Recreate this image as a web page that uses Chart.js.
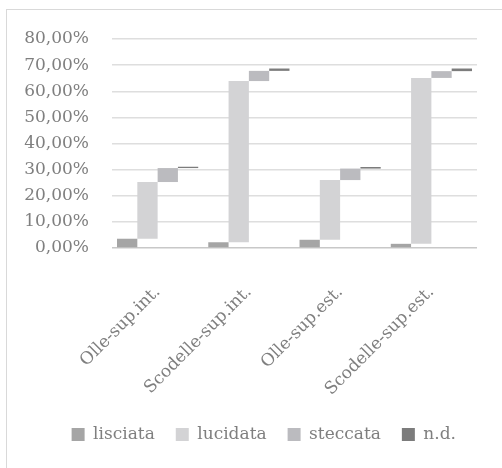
<!DOCTYPE html>
<html>
<head>
<meta charset="utf-8">
<script src="https://cdn.jsdelivr.net/npm/chart.js@4"></script>
<style>
  html, body { margin: 0; padding: 0; background: #ffffff; }
  #wrap { position: relative; width: 502px; height: 468px; overflow: hidden; }
  #frame { position: absolute; left: 6px; top: 9px; width: 700px; height: 700px; border: 1px solid #d9d9d9; box-sizing: border-box; }
  canvas { position: absolute; left: 0; top: 0; }
</style>
</head>
<body>
<div id="wrap">
  <div id="frame"></div>
  <canvas id="c" width="502" height="468"></canvas>
</div>
<script>
// Data (percent units): each series is the increment of a waterfall per category
const categories = ['Olle-sup.int.', 'Scodelle-sup.int.', 'Olle-sup.est.', 'Scodelle-sup.est.'];
const seriesNames = ['lisciata', 'lucidata', 'steccata', 'n.d.'];
const lisciata = [3.55, 2.2, 3.15, 1.6];
const lucidata = [21.7, 61.7, 22.85, 63.5];
const steccata = [5.35, 3.9, 4.4, 2.6];
const nd = [0.5, 0.9, 0.6, 1.0];
const yTicks = [0, 10, 20, 30, 40, 50, 60, 70, 80];

const colors = ['#a5a5a5', '#d3d3d5', '#bbbbbf', '#7c7c7c'];
const seriesValues = [lisciata, lucidata, steccata, nd];

// Build floating [start, end] ranges from cumulative sums
const running = categories.map(() => 0);
const datasets = seriesValues.map((vals, s) => {
  const data = vals.map((v, i) => {
    const start = running[i];
    const end = start + v;
    running[i] = end;
    return [start, end];
  });
  return {
    label: seriesNames[s],
    data: data,
    backgroundColor: colors[s],
    borderWidth: 0,
    categoryPercentage: 0.89,
    barPercentage: 1.0
  };
});

const FONT = 'DejaVu Serif';
const TXT = '#7f7f7f';

new Chart(document.getElementById('c'), {
  type: 'bar',
  data: { labels: categories, datasets: datasets },
  options: {
    responsive: false,
    animation: false,
    devicePixelRatio: 1,
    layout: { padding: { left: 0, right: 25, top: 39, bottom: 15 } },
    plugins: {
      tooltip: { enabled: false },
      legend: {
        position: 'bottom',
        align: 'end',
        labels: {
          boxWidth: 13,
          boxHeight: 13,
          padding: 21,
          color: TXT,
          font: { family: FONT, size: 17 }
        }
      }
    },
    scales: {
      x: {
        grid: { display: false },
        border: { display: false },
        ticks: {
          color: TXT,
          font: { family: FONT, size: 17 },
          minRotation: 45,
          maxRotation: 45,
          padding: 26
        },
        afterFit: (s) => { s.height = 157; }
      },
      y: {
        min: 0,
        max: 80,
        afterBuildTicks: (s) => { s.ticks = yTicks.map(v => ({ value: v })); },
        afterFit: (s) => { s.width = 112; },
        border: { display: false },
        grid: {
          drawTicks: false,
          lineWidth: 1.5,
          color: (ctx) => ctx.tick && ctx.tick.value === 0 ? '#c8c8c8' : '#dedede'
        },
        ticks: {
          padding: 23,
          color: TXT,
          font: { family: FONT, size: 17 },
          callback: (v) => v.toFixed(2).replace('.', ',') + '%'
        }
      }
    }
  }
});
</script>
</body>
</html>
